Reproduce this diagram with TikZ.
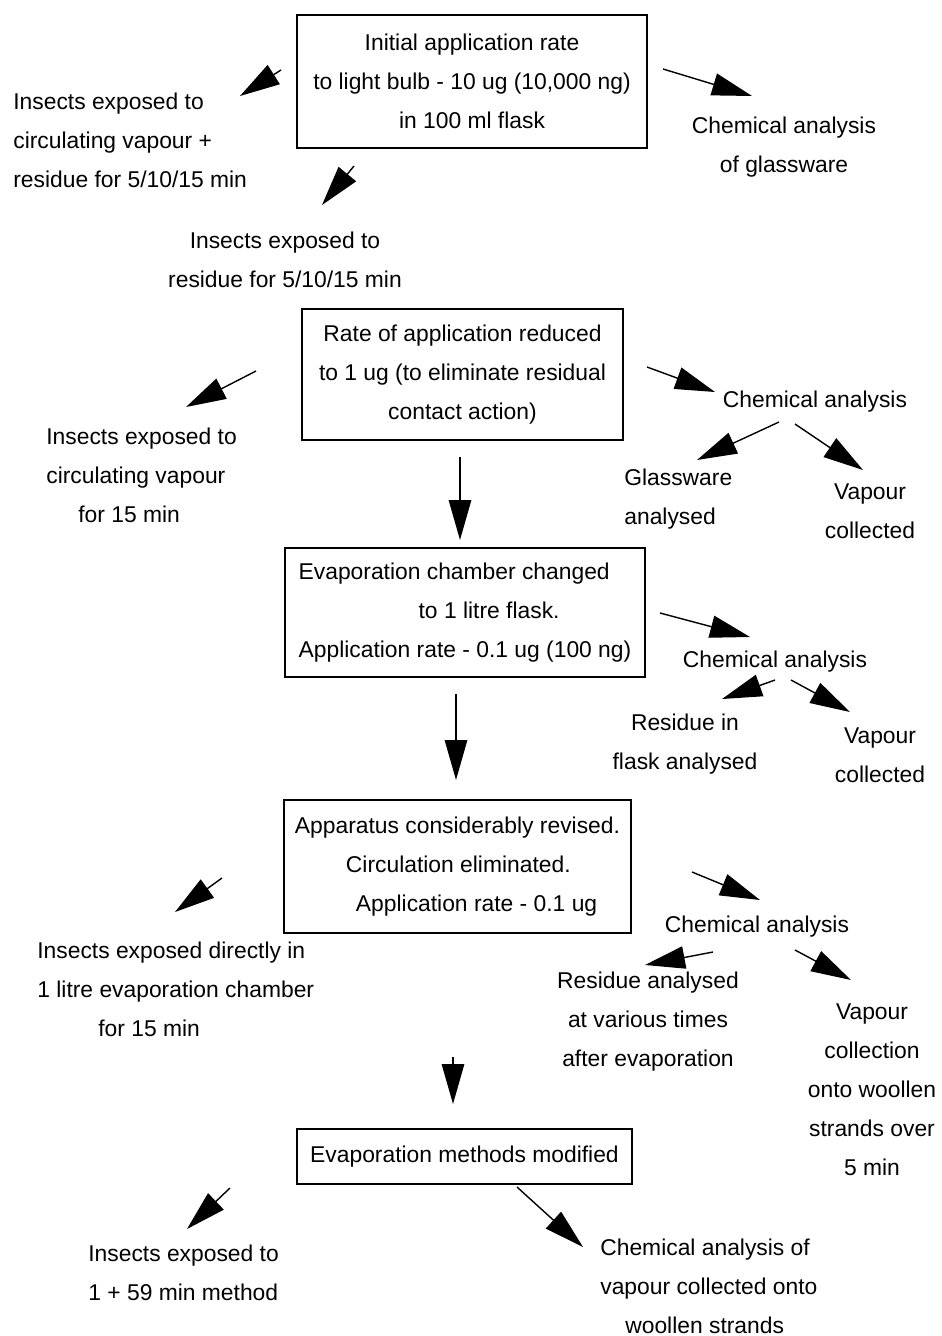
\documentclass[tikz,border=0pt]{standalone}
\usepackage{fontspec}
\setmainfont{Liberation Sans}
\usepackage{tikz}
\usetikzlibrary{arrows.meta, shapes}
\tikzstyle{stage} = [rectangle, draw=black, line width=0.8pt, inner sep=0, align=center, font=\fontsize{13}{22.2}\selectfont]
\tikzstyle{note} = [inner sep=0, align=center, font=\fontsize{13}{22.2}\selectfont]
\tikzstyle{arrow} = [line width=0.8pt, -{Triangle[length=0.8cm, width=0.45cm]}]

\begin{document}
\begin{tikzpicture}[x=0.02cm, y=-0.02cm]
\useasboundingbox (0,0) rectangle (941,1336);
% stages of the method
\node (init) [stage, line width=1.2pt, minimum width=7cm, minimum height=2.66cm] at (472,81.5) {Initial application rate\\to light bulb - 10 ug (10,000 ng)\\in 100 ml flask};
\node (reduced) [stage, minimum width=6.42cm, minimum height=2.62cm] at (462.5,374.5) {Rate of application reduced\\to 1 ug (to eliminate residual\\contact action)};
\node (chamber) [stage, align=left, minimum width=7.2cm, minimum height=2.58cm] at (465,612.5) {Evaporation chamber changed\\\hspace*{2.4cm}to 1 litre flask.\\Application rate - 0.1 ug (100 ng)};
\node (revised) [stage, align=left, minimum width=6.94cm, minimum height=2.66cm] at (457.5,866.5) {Apparatus considerably revised.\\\hspace*{1.02cm}Circulation eliminated.\\\hspace*{1.22cm}Application rate - 0.1 ug};
\node (modified) [stage, minimum width=6.7cm, minimum height=1.1cm] at (464.5,1156.5) {Evaporation methods modified};
% outcomes
\node (expA) [note, align=left, anchor=west] at (13,140) {Insects exposed to\\circulating vapour +\\residue for 5/10/15 min};
\node (chemA) [note] at (784,147.5) {Chemical analysis\\of glassware};
\node (expB) [note] at (285,259.5) {Insects exposed to\\residue for 5/10/15 min};
\node (expC) [note, align=left, anchor=west] at (46,475) {Insects exposed to\\circulating vapour\\\hspace*{0.64cm}for 15 min};
\node (chemB) [note] at (815,402) {Chemical analysis};
\node (glassB) [note, align=left, anchor=west] at (624,499) {Glassware\\analysed};
\node (vapB) [note] at (870,511.5) {Vapour\\collected};
\node (chemC) [note] at (775,662) {Chemical analysis};
\node (resC) [note] at (685,744) {Residue in\\flask analysed};
\node (vapC) [note] at (880,755.5) {Vapour\\collected};
\node (expD) [note, align=left, anchor=west] at (37,989) {Insects exposed directly in\\1 litre evaporation chamber\\\hspace*{1.22cm}for 15 min};
\node (chemD) [note] at (757,927) {Chemical analysis};
\node (resD) [note] at (648,1021.5) {Residue analysed\\at various times\\after evaporation};
\node (vapD) [note] at (872,1089.5) {Vapour\\collection\\onto woollen\\strands over\\5 min};
\node (expE) [note, align=left, anchor=west] at (88,1272.5) {Insects exposed to\\1 + 59 min method};
\node (chemE) [note, align=left, anchor=west] at (600,1286) {Chemical analysis of\\vapour collected onto\\\hspace*{0.5cm}woollen strands};
% arrow ends
\coordinate (init-w) at (281,70);   \coordinate (expA-in) at (240,96);
\coordinate (init-e) at (663,69);   \coordinate (chemA-in) at (752,96);
\coordinate (init-s) at (354,166);  \coordinate (expB-in) at (322,205);
\coordinate (reduced-w) at (256,371); \coordinate (expC-in) at (186,407);
\coordinate (reduced-e) at (647,367); \coordinate (chemB-in) at (715,392);
\coordinate (chemB-l) at (779,422); \coordinate (glassB-in) at (697,460);
\coordinate (chemB-r) at (795,424); \coordinate (vapB-in) at (863,470);
\coordinate (reduced-s) at (460,457); \coordinate (chamber-in) at (460,540);
\coordinate (chamber-e) at (660,613); \coordinate (chemC-in) at (750,637);
\coordinate (chemC-l) at (775,680); \coordinate (resC-in) at (722,699);
\coordinate (chemC-r) at (791,680); \coordinate (vapC-in) at (850,712);
\coordinate (chamber-s) at (456,694); \coordinate (revised-in) at (456,780);
\coordinate (revised-w) at (222,878); \coordinate (expD-in) at (175,912);
\coordinate (revised-e) at (692,872); \coordinate (chemD-in) at (760,900);
\coordinate (chemD-l) at (713,952); \coordinate (resD-in) at (645,965);
\coordinate (chemD-r) at (795,950); \coordinate (vapD-in) at (851,980);
\coordinate (revised-s) at (453,1057); \coordinate (modified-in) at (453,1104);
\coordinate (modified-w) at (230,1188); \coordinate (expE-in) at (187,1229);
\coordinate (modified-e) at (517,1187); \coordinate (chemE-in) at (583,1247);
% arrows
\draw [arrow] (init-w) -- (expA-in);
\draw [arrow] (init-e) -- (chemA-in);
\draw [arrow] (init-s) -- (expB-in);
\draw [arrow] (reduced-w) -- (expC-in);
\draw [arrow] (reduced-e) -- (chemB-in);
\draw [arrow] (chemB-l) -- (glassB-in);
\draw [arrow] (chemB-r) -- (vapB-in);
\draw [arrow] (reduced-s) -- (chamber-in);
\draw [arrow] (chamber-e) -- (chemC-in);
\draw [arrow] (chemC-l) -- (resC-in);
\draw [arrow] (chemC-r) -- (vapC-in);
\draw [arrow] (chamber-s) -- (revised-in);
\draw [arrow] (revised-w) -- (expD-in);
\draw [arrow] (revised-e) -- (chemD-in);
\draw [arrow] (chemD-l) -- (resD-in);
\draw [arrow] (chemD-r) -- (vapD-in);
\draw [arrow] (revised-s) -- (modified-in);
\draw [arrow] (modified-w) -- (expE-in);
\draw [arrow] (modified-e) -- (chemE-in);
\end{tikzpicture}
\end{document}
